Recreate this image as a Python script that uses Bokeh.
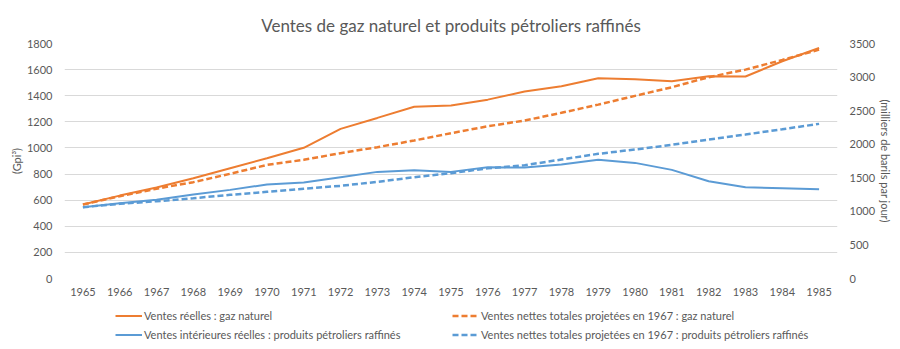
from bokeh.plotting import figure
from bokeh.layouts import column
from bokeh.models import (LinearAxis, Range1d, FixedTicker, Legend, LegendItem,
                          ColumnDataSource)
from bokeh.embed import file_html
from bokeh.resources import INLINE

years = list(range(1965, 1986))
gaz_reel = [567, 635, 697, 768, 845, 921, 1001, 1146, 1230, 1315, 1325, 1370,
            1432, 1473, 1534, 1526, 1511, 1549, 1547, 1664, 1766]
gaz_proj = [567, 630, 688, 738, 802, 870, 909, 960, 1006, 1057, 1113, 1166,
            1210, 1269, 1332, 1399, 1465, 1542, 1600, 1674, 1753]
prod_reel = [1062, 1121, 1172, 1251, 1320, 1400, 1429, 1508, 1588, 1613, 1588, 1657,
             1653, 1697, 1767, 1722, 1618, 1449, 1360, 1345, 1330]
prod_proj = [1062, 1112, 1151, 1196, 1246, 1291, 1336, 1380, 1440, 1508, 1568, 1642,
             1687, 1772, 1857, 1921, 1991, 2070, 2144, 2223, 2303]

left_ticks = list(range(0, 1801, 200))
right_ticks = list(range(0, 3501, 500))

title_text = "Ventes de gaz naturel et produits pétroliers raffinés"
left_label = "(Gpi³)"
right_label = "(milliers de barils par jour)"
labels = ["Ventes réelles : gaz naturel",
          "Ventes nettes totales projetées en 1967 : gaz naturel",
          "Ventes intérieures réelles : produits pétroliers raffinés",
          "Ventes nettes totales projetées en 1967 : produits pétroliers raffinés"]

ORANGE = "#ED7D31"
BLUE = "#5B9BD5"
TXT = "#595959"
FONT = "Lato"

src = ColumnDataSource(dict(x=years, gr=gaz_reel, gp=gaz_proj, pr=prod_reel, pp=prod_proj))

p = figure(frame_width=773, frame_height=235, output_backend="svg", toolbar_location=None,
           x_range=Range1d(1964.5, 1985.5), y_range=Range1d(0, 1800),
           min_border_left=64, min_border_right=63, min_border_top=43,
           min_border_bottom=24)
p.extra_y_ranges = {"right": Range1d(0, 3500)}
p.outline_line_color = None
p.background_fill_color = "white"
p.border_fill_color = "white"

p.title.text = title_text
p.title.align = "center"
p.title.text_font = FONT
p.title.text_font_size = "17px"
p.title.text_font_style = "normal"
p.title.text_color = TXT
p.title.standoff = 16

p.xgrid.grid_line_color = None
p.ygrid.grid_line_color = "#d9d9d9"
p.ygrid.ticker = FixedTicker(ticks=left_ticks)

def style_axis(ax):
    ax.axis_line_color = None
    ax.major_tick_line_color = None
    ax.minor_tick_line_color = None
    ax.major_tick_out = 0
    ax.major_tick_in = 0
    ax.minor_tick_out = 0
    ax.minor_tick_in = 0
    ax.major_label_text_font = FONT
    ax.major_label_text_font_size = "11px"
    ax.major_label_text_color = TXT
    ax.major_label_standoff = 12
    ax.axis_label_text_font = FONT
    ax.axis_label_text_font_size = "11px"
    ax.axis_label_text_font_style = "normal"
    ax.axis_label_text_color = TXT
    ax.axis_label_standoff = 1

p.xaxis.ticker = FixedTicker(ticks=years)
p.yaxis.ticker = FixedTicker(ticks=left_ticks)
p.yaxis.axis_label = left_label
style_axis(p.xaxis[0])
style_axis(p.yaxis[0])
p.xaxis.major_label_standoff = 9

rax = LinearAxis(y_range_name="right", ticker=FixedTicker(ticks=right_ticks),
                 axis_label=right_label)
style_axis(rax)
p.add_layout(rax, "right")

styles = [dict(line_color=ORANGE, line_width=2),
          dict(line_color=ORANGE, line_width=2.5, line_dash="6 3"),
          dict(line_color=BLUE, line_width=2),
          dict(line_color=BLUE, line_width=2.5, line_dash="6 3")]

p.line("x", "gr", source=src, **styles[0])
p.line("x", "gp", source=src, **styles[1])
p.line("x", "pr", source=src, y_range_name="right", **styles[2])
p.line("x", "pp", source=src, y_range_name="right", **styles[3])

# legend strip below the chart; its renderers use the same data but lie
# outside this strip's ranges, so only their legend samples are visible
lg = figure(width=900, height=47, output_backend="svg", toolbar_location=None,
            x_range=Range1d(0, 1), y_range=Range1d(0, 1),
            x_axis_type=None, y_axis_type=None, min_border=0)
lg.outline_line_color = None
lg.xgrid.visible = False
lg.ygrid.visible = False
k1 = lg.line("x", "gr", source=src, **styles[0])
k2 = lg.line("x", "gp", source=src, **styles[1])
k3 = lg.line("x", "pr", source=src, **styles[2])
k4 = lg.line("x", "pp", source=src, **styles[3])

legend = Legend(items=[LegendItem(label=labels[0], renderers=[k1]),
                       LegendItem(label=labels[2], renderers=[k3]),
                       LegendItem(label=labels[1], renderers=[k2]),
                       LegendItem(label=labels[3], renderers=[k4])],
                orientation="vertical", nrows=2, location=(51, 5),
                label_text_font=FONT, label_text_font_size="11px",
                label_text_color=TXT, glyph_width=27, glyph_height=19,
                label_standoff=2, label_width=308, label_height=19,
                spacing=0, padding=0, margin=0, border_line_color=None,
                background_fill_alpha=0)
lg.add_layout(legend, "center")

layout = column(p, lg, spacing=0)
open("out.html", "w").write(file_html(layout, INLINE))
